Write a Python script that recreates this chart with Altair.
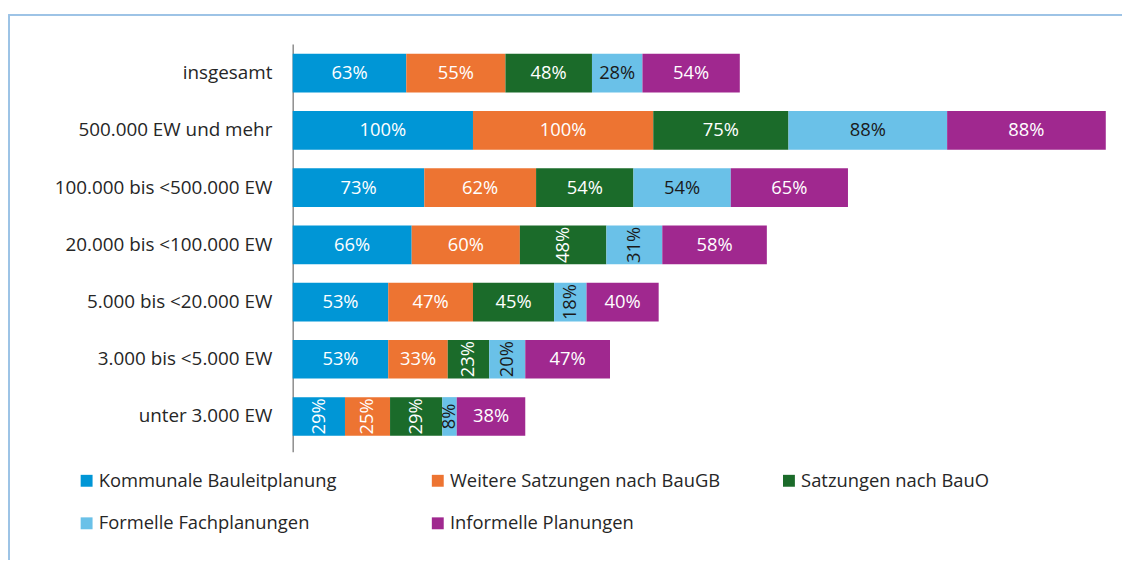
import altair as alt
import pandas as pd

categories = [
    "insgesamt",
    "500.000 EW und mehr",
    "100.000 bis <500.000 EW",
    "20.000 bis <100.000 EW",
    "5.000 bis <20.000 EW",
    "3.000 bis <5.000 EW",
    "unter 3.000 EW",
]
series = [
    "Kommunale Bauleitplanung",
    "Weitere Satzungen nach BauGB",
    "Satzungen nach BauO",
    "Formelle Fachplanungen",
    "Informelle Planungen",
]
kommunale = [63, 100, 73, 66, 53, 53, 29]
weitere = [55, 100, 62, 60, 47, 33, 25]
bauo = [48, 75, 54, 48, 45, 23, 29]
formelle = [28, 88, 54, 31, 18, 20, 8]
informelle = [54, 88, 65, 58, 40, 47, 38]
colors = ["#0096D6", "#ED7432", "#1B6B2A", "#6AC1E8", "#A0288F"]

# labels drawn vertically in the original
rotated = {
    ("20.000 bis <100.000 EW", "Satzungen nach BauO"),
    ("20.000 bis <100.000 EW", "Formelle Fachplanungen"),
    ("5.000 bis <20.000 EW", "Formelle Fachplanungen"),
    ("3.000 bis <5.000 EW", "Satzungen nach BauO"),
    ("3.000 bis <5.000 EW", "Formelle Fachplanungen"),
    ("unter 3.000 EW", "Kommunale Bauleitplanung"),
    ("unter 3.000 EW", "Weitere Satzungen nach BauGB"),
    ("unter 3.000 EW", "Satzungen nach BauO"),
    ("unter 3.000 EW", "Formelle Fachplanungen"),
}

rows = []
for si, (s, vals) in enumerate(zip(series, [kommunale, weitere, bauo, formelle, informelle])):
    for c, v in zip(categories, vals):
        rows.append({
            "cat": c, "series": s, "order": si, "value": v,
            "label": f"{v}%", "rot": (c, s) in rotated,
            "dark": s == "Formelle Fachplanungen",
        })
df = pd.DataFrame(rows)

FONT = "Open Sans"

base = alt.Chart(df).transform_stack(
    stack="value", groupby=["cat"], as_=["x0", "x1"],
    sort=[alt.SortField("order", order="ascending")],
).transform_calculate(mid="(datum.x0 + datum.x1) / 2")

yenc = alt.Y(
    "cat:N", sort=categories,
    scale=alt.Scale(domain=categories, paddingInner=0.324, paddingOuter=0.225, align=0.385),
    axis=alt.Axis(title=None, ticks=False, domainColor="#8c8c8c", domainWidth=1.5,
                  grid=False,
                  labelFont=FONT, labelFontSize=19, labelColor="#262626",
                  labelPadding=21, labelLimit=300),
)
xscale = alt.Scale(domain=[0, 460], nice=False)

bars = base.mark_bar().encode(
    x=alt.X("x0:Q", scale=xscale, axis=None),
    x2="x1:Q",
    y=yenc,
    color=alt.Color(
        "series:N",
        scale=alt.Scale(domain=series, range=colors),
        legend=alt.Legend(
            title=None, orient="none", legendX=-217, legendY=431,
            direction="horizontal", columns=3, gridAlign="all",
            columnPadding=60, rowPadding=24,
            symbolType="square", symbolSize=144, symbolStrokeWidth=0,
            labelFont=FONT, labelFontSize=18.5, labelColor="#262626",
            labelOffset=3, labelLimit=400,
        ),
    ),
    order=alt.Order("order:Q"),
)

txt_h = base.transform_filter("!datum.rot").mark_text(
    font=FONT, fontSize=18.5, align="center", baseline="middle"
).encode(
    x=alt.X("mid:Q", scale=xscale, axis=None),
    y=yenc,
    text="label:N",
    color=alt.condition("datum.dark", alt.value("#1a1a1a"), alt.value("white")),
)
txt_v = base.transform_filter("datum.rot").mark_text(
    font=FONT, fontSize=18.5, align="center", baseline="middle", angle=270
).encode(
    x=alt.X("mid:Q", scale=xscale, axis=None),
    y=yenc,
    text="label:N",
    color=alt.condition("datum.dark", alt.value("#1a1a1a"), alt.value("white")),
)

frame_top = alt.Chart(df).mark_rule(color="#9DC3E6", strokeWidth=1.5, clip=False).encode(
    x=alt.value(-286), x2=alt.value(900), y=alt.value(-29.5)
)
frame_left = alt.Chart(df).mark_rule(color="#9DC3E6", strokeWidth=1.5, clip=False).encode(
    x=alt.value(-286), y=alt.value(-29.5), y2=alt.value(600)
)

chart = alt.layer(bars, txt_h, txt_v, frame_top, frame_left).properties(
    width=836, height=411,
    autosize=alt.AutoSizeParams(type="none"),
    padding={"left": 287, "top": 34, "right": 0, "bottom": 107},
).configure(font=FONT, view=alt.ViewConfig(stroke=None))

chart.save("out.html", embed_options={"renderer": "svg", "actions": False})
